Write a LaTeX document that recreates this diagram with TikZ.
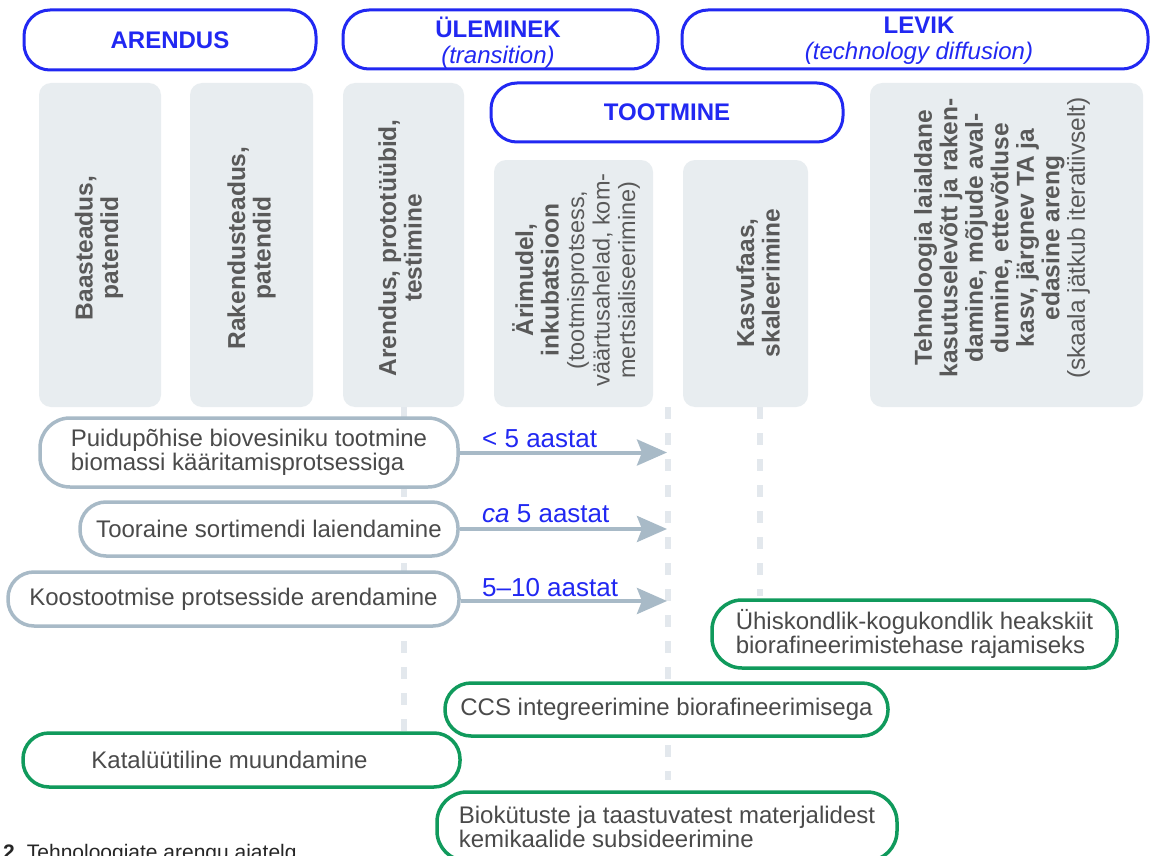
\documentclass[tikz,border=0pt]{standalone}
\usepackage{fontspec}
\setmainfont{Liberation Sans}
\usetikzlibrary{arrows.meta}
\definecolor{hblue}{HTML}{2128F2}
\definecolor{colfill}{HTML}{E8EDF0}
\definecolor{coltext}{HTML}{595959}
\definecolor{boxtext}{HTML}{4A4A4A}
\definecolor{greyline}{HTML}{A8BAC7}
\definecolor{greenline}{HTML}{109A5C}
\definecolor{dashgrey}{HTML}{E3E8ED}
\begin{document}
\begin{tikzpicture}[x=1pt,y=-1pt,
  hpill/.style={draw=hblue, line width=3pt, rounded corners=26pt, fill=white, text=hblue, align=center, inner sep=0pt, font=\fontsize{24}{26}\selectfont},
  htxt/.style={text=hblue, align=center, inner sep=0pt, font=\fontsize{24}{26}\selectfont},
  colbox/.style={fill=colfill, rounded corners=12pt, inner sep=0pt},
  coltxt/.style={rotate=90, text=coltext, align=center, inner sep=0pt, font=\fontsize{24.5}{25.5}\selectfont\bfseries},
  gbox/.style={draw=greyline, line width=3.5pt, rounded corners=26pt, fill=white, text=boxtext, inner sep=0pt, font=\fontsize{24}{24}\selectfont},
  grbox/.style={gbox, draw=greenline},
  guide/.style={draw=dashgrey, line width=6pt, dash pattern=on 12pt off 14pt},
  arr/.style={draw=greyline, line width=4pt, -{Stealth[length=30pt,width=26pt,inset=5pt]}},
  lbl/.style={text=hblue, anchor=base west, inner sep=0pt, font=\fontsize{26}{26}\selectfont},
]
\useasboundingbox (0,0) rectangle (1151,856);
\clip (0,0) rectangle (1151,856);
\fill[white] (0,0) rectangle (1151,856);

% header pills
\node[hpill, minimum width=292pt, minimum height=60pt] (h1) at (170,40) {\bfseries ARENDUS};
\node[hpill, minimum width=315pt, minimum height=59pt] (h2) at (500.5,39.5) {};
\node[htxt] (h2t) at (498,42.5) {{\bfseries ÜLEMINEK}\\{\itshape (transition)}};
\node[hpill, minimum width=466pt, minimum height=59pt] (h3) at (915,39.5) {};
\node[htxt] (h3t) at (919,40.5) {{\bfseries LEVIK}\\{\itshape (technology diffusion)}};
\node[hpill, minimum width=352pt, minimum height=59pt] (h4) at (667,112.5) {\bfseries TOOTMINE};

% columns
\node[colbox, minimum width=122pt, minimum height=324pt] (c1) at (100,245) {};
\node[colbox, minimum width=123pt, minimum height=324pt] (c2) at (251.5,245) {};
\node[colbox, minimum width=121pt, minimum height=324pt] (c3) at (403.5,245) {};
\node[colbox, minimum width=159pt, minimum height=247pt] (c4) at (573.5,283.5) {};
\node[colbox, minimum width=125pt, minimum height=247pt] (c5) at (745.5,283.5) {};
\node[colbox, minimum width=273pt, minimum height=324pt] (c6) at (1006.5,245) {};

\node[coltxt] (t1) at (99,248) {Baasteadus,\\patendid};
\node[coltxt] (t2) at (251.5,248) {Rakendusteadus,\\patendid};
\node[coltxt] (t3) at (400,248) {Arendus, prototüübid,\\testimine};
\node[coltxt] (t4) at (576,280) {Ärimudel,\\inkubatsioon\\{\mdseries\fontsize{23.5}{25.5}\selectfont (tootmisprotsess,}\\{\mdseries\fontsize{23.5}{25.5}\selectfont väärtusahelad, kom-}\\{\mdseries\fontsize{23.5}{25.5}\selectfont mertsialiseerimine)}};
\node[coltxt] (t5) at (758,283) {Kasvufaas,\\skaleerimine};
\node[coltxt] (t6) at (1002,238) {Tehnoloogia laialdane\\kasutuselevõtt ja raken-\\damine, mõjude aval-\\dumine, ettevõtluse\\kasv, järgnev TA ja\\edasine areng\\{\mdseries (skaala jätkub iteratiivselt)}};

% guide lines
\coordinate (g1) at (403.5,793);
\coordinate (g2a) at (668,407);
\coordinate (g2b) at (668,780);
\coordinate (g3a) at (760,407);
\coordinate (g3b) at (760,596);
\draw[guide] (c3.south) -- (g1);
\draw[guide] (g2a) -- (g2b);
\draw[guide] (g3a) -- (g3b);

% grey boxes
\node[gbox, rounded corners=30pt, minimum width=418pt, minimum height=69pt, align=left] (A) at (249,452.5) {Puidupõhise biovesiniku tootmine\\biomassi kääritamisprotsessiga};
\node[gbox, minimum width=378pt, minimum height=54pt] (B) at (269,529) {Tooraine sortimendi laiendamine};
\node[gbox, minimum width=451pt, minimum height=54pt] (C) at (233.5,599) {Koostootmise protsesside arendamine};

% arrows
\coordinate (eA) at (667,452.5);
\coordinate (eB) at (667,529);
\coordinate (eC) at (667,601);
\draw[arr] (A.east) -- (eA);
\draw[arr] (B.east) -- (eB);
\draw[arr] (C.east |- eC) -- (eC);
\node[lbl] (lA) at (482,447) {< 5 aastat};
\node[lbl] (lB) at (482,522) {\textit{ca} 5 aastat};
\node[lbl] (lC) at (482,596) {5–10 aastat};

% green boxes
\node[grbox, rounded corners=30pt, minimum width=405pt, minimum height=68pt, align=left] (D) at (914.5,634) {Ühiskondlik-kogukondlik heakskiit\\biorafineerimistehase rajamiseks};
\node[grbox, minimum width=443pt, minimum height=53pt] (E) at (666.5,709.5) {CCS integreerimine biorafineerimisega};
\node[grbox, minimum width=437pt, minimum height=54pt] (F) at (241.5,760) {Katalüütiline muundamine\hspace*{24pt}};
\node[grbox, rounded corners=30pt, minimum width=460pt, minimum height=69pt, align=left] (G) at (667,826.5) {Biokütuste ja taastuvatest materjalidest\\kemikaalide subsideerimine};

% caption
\node[anchor=base west, inner sep=0pt, text=black!85, font=\fontsize{21}{21}\selectfont] (cap) at (3,859) {\textbf{2}\hspace{12pt}Tehnoloogiate arengu ajatelg};
\end{tikzpicture}
\end{document}
